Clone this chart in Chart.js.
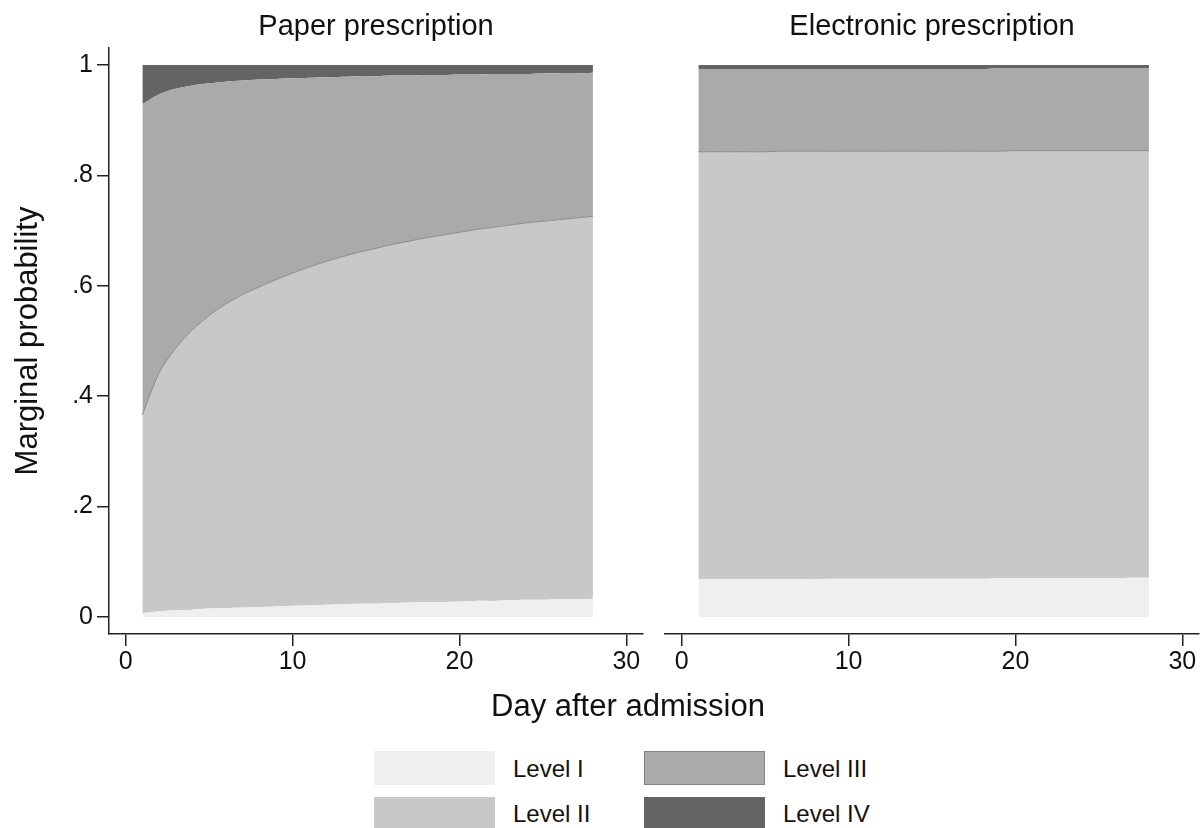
<!DOCTYPE html>
<html lang="en">
<head>
    <meta charset="UTF-8">
    <title>Marginal probability by day after admission</title>
    <script src="https://cdn.jsdelivr.net/npm/chart.js"></script>
    <style>
        body { margin: 0; background: #fff; font-family: "Liberation Sans", Arial, sans-serif; color: #111; }
        #wrap { position: relative; width: 1203px; height: 828px; overflow: hidden; }
        canvas { position: absolute; top: 0; }
        .txt { position: absolute; white-space: nowrap; }
        .panel-title { font-size: 29px; line-height: 29px; top: 11px; transform: translateX(-50%); }
        .x-title { font-size: 31px; line-height: 31px; top: 690px; transform: translateX(-50%); }
        .leg-box { position: absolute; width: 121px; height: 34px; box-sizing: border-box; }
        .leg-label { position: absolute; font-size: 24px; line-height: 24px; }
    </style>
</head>
<body>
<div id="wrap">
    <canvas id="paperChart" width="650" height="700" style="left:0"></canvas>
    <canvas id="elecChart" width="553" height="700" style="left:650px"></canvas>
    <div class="txt panel-title" style="left:376px">Paper prescription</div>
    <div class="txt panel-title" style="left:932px">Electronic prescription</div>
    <div class="txt x-title" style="left:628px">Day after admission</div>
    <div id="legend"></div>
</div>

<script>
    // Days after admission (x values)
    const days = [1, 2, 3, 4, 5, 6, 7, 8, 9, 10, 11, 12, 13, 14, 15, 16, 17, 18, 19, 20, 21, 22, 23, 24, 25, 26, 27, 28];
    const xTicks = [0, 10, 20, 30];
    const yTicks = [0, 0.2, 0.4, 0.6, 0.8, 1];
    const yTickLabels = ['0', '.2', '.4', '.6', '.8', '1'];
    const levelNames = ['Level I', 'Level II', 'Level III', 'Level IV'];

    // Cumulative marginal probabilities (upper edge of each level), paper prescription
    const paperUpToI = [.007, .010, .012, .013, .015, .016, .017, .018, .019, .020, .021, .022, .023, .024,
                        .024, .025, .026, .027, .027, .028, .029, .029, .030, .031, .031, .032, .032, .033];
    const paperUpToII = [.366, .442, .487, .520, .546, .567, .584, .598, .611, .623, .634, .644, .653, .661,
                         .668, .675, .681, .687, .692, .697, .702, .706, .710, .714, .717, .720, .723, .726];
    const paperUpToIII = [.929, .947, .957, .963, .967, .970, .972, .974, .975, .976, .977, .978, .979, .980,
                          .980, .981, .981, .982, .982, .983, .983, .984, .984, .984, .985, .985, .985, .986];

    // Same for electronic prescription
    const elecUpToI = [.068, .068, .068, .068, .068, .068, .068, .068, .069, .069, .069, .069, .069, .069,
                       .069, .069, .069, .069, .070, .070, .070, .070, .070, .070, .070, .070, .071, .071];
    const elecUpToII = [.843, .843, .843, .843, .843, .844, .844, .844, .844, .844, .844, .844, .844, .844,
                        .844, .844, .844, .844, .844, .845, .845, .845, .845, .845, .845, .845, .845, .845];
    const elecUpToIII = [.993, .993, .993, .993, .993, .993, .993, .993, .993, .993, .993, .993, .993, .993,
                         .993, .993, .993, .993, .994, .994, .994, .994, .994, .994, .994, .994, .994, .994];

    const topEdge = days.map(() => 1);

    const fillColors = ['#efefef', '#c8c8c8', '#aaaaaa', '#646464'];
    const edgeColors = ['rgba(0,0,0,0)', '#8a8a8a', 'rgba(0,0,0,0)', 'rgba(0,0,0,0)'];
    const axisColor = '#222';

    function makePanel(canvasId, edges, showY, padding) {
        const datasets = edges.map((edge, i) => ({
            label: levelNames[i],
            data: days.map((d, j) => ({ x: d, y: edge[j] })),
            backgroundColor: fillColors[i],
            borderColor: edgeColors[i],
            borderWidth: 1,
            pointRadius: 0,
            tension: 0.3,
            fill: i === 0 ? 'origin' : '-1'
        }));

        return new Chart(document.getElementById(canvasId), {
            type: 'line',
            data: { datasets: datasets },
            options: {
                responsive: false,
                animation: false,
                events: [],
                layout: { padding: padding },
                plugins: { legend: { display: false }, tooltip: { enabled: false } },
                scales: {
                    x: {
                        type: 'linear',
                        min: -1,
                        max: 31,
                        afterBuildTicks: s => { s.ticks = xTicks.map(v => ({ value: v })); },
                        afterFit: s => { s.height = 50; },
                        border: { display: true, color: axisColor, width: 1.5 },
                        grid: { display: true, drawOnChartArea: false, drawTicks: true, tickLength: 12, color: axisColor, lineWidth: 1.5 },
                        ticks: { color: '#111', padding: 1, maxRotation: 0, font: { family: 'Liberation Sans', size: 25 } }
                    },
                    y: {
                        type: 'linear',
                        display: showY,
                        min: -0.031,
                        max: 1.031,
                        afterBuildTicks: s => { s.ticks = yTicks.map(v => ({ value: v })); },
                        afterFit: s => { s.width = showY ? 109 : 0; },
                        border: { display: true, color: axisColor, width: 1.5 },
                        grid: { display: true, drawOnChartArea: false, drawTicks: true, tickLength: 12, color: axisColor, lineWidth: 1.5 },
                        ticks: {
                            color: '#111',
                            padding: 4,
                            font: { family: 'Liberation Sans', size: 25 },
                            callback: (v, idx) => yTickLabels[idx]
                        },
                        title: {
                            display: true,
                            text: 'Marginal probability',
                            color: '#111',
                            padding: { top: 10, bottom: 0 },
                            font: { family: 'Liberation Sans', size: 31, lineHeight: 1.2 }
                        }
                    }
                }
            }
        });
    }

    makePanel('paperChart', [paperUpToI, paperUpToII, paperUpToIII, topEdge], true,
        { left: 0, right: 7, top: 48, bottom: 16 });
    makePanel('elecChart', [elecUpToI, elecUpToII, elecUpToIII, topEdge], false,
        { left: 15, right: 4, top: 48, bottom: 16 });

    // Legend, two columns
    const legendSpots = [
        { box: [374, 751], text: [513, 757] },
        { box: [374, 797], text: [513, 802] },
        { box: [644, 751], text: [783, 757] },
        { box: [644, 797], text: [783, 802] }
    ];
    const legend = document.getElementById('legend');
    levelNames.forEach((name, i) => {
        const box = document.createElement('div');
        box.className = 'leg-box';
        box.style.left = legendSpots[i].box[0] + 'px';
        box.style.top = legendSpots[i].box[1] + 'px';
        box.style.background = fillColors[i];
        if (i === 2) box.style.border = '1px solid #828282';
        legend.appendChild(box);

        const label = document.createElement('div');
        label.className = 'leg-label';
        label.style.left = legendSpots[i].text[0] + 'px';
        label.style.top = legendSpots[i].text[1] + 'px';
        label.textContent = name;
        legend.appendChild(label);
    });
</script>
</body>
</html>
